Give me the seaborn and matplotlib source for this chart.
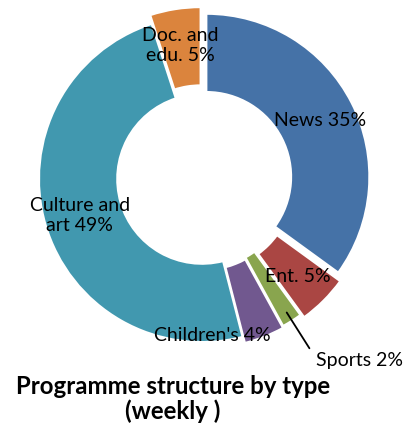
import numpy as np
import matplotlib
matplotlib.use("Agg")
import matplotlib.pyplot as plt
import seaborn as sns

categories = ["News", "Ent.", "Sports", "Children's", "Culture and\nart", "Doc. and\nedu."]
values = [35, 5, 2, 4, 49, 5]
colors = ["#4572A7", "#AA4643", "#89A54E", "#71588F", "#4198AF", "#DB843D"]
explode = [0.03, 0.055, 0.03, 0.04, 0.0, 0.055]

sns.set_theme(style="white")
plt.rcParams["font.family"] = ["Lato", "DejaVu Sans"]

W, H = 406, 427
fig = plt.figure(figsize=(W / 100, H / 100), dpi=100)
ax = fig.add_axes([0, 0, 1, 1])

R = 163.0
cx, cy = 202.0, 180.0
wedges, _ = ax.pie(values, colors=colors, explode=explode, startangle=90,
                   counterclock=False, radius=1.0,
                   wedgeprops=dict(width=0.48, edgecolor="white", linewidth=1.5))

ax.set_xlim(-cx / R, (W - cx) / R)
ax.set_ylim(-(H - cy) / R, cy / R)
ax.set_aspect("auto")
ax.axis("off")

fs = 14
for i, (w, cat, v) in enumerate(zip(wedges, categories, values)):
    mid = np.deg2rad((w.theta1 + w.theta2) / 2)
    ox, oy = w.center
    label = f"{cat} {v}%"
    if cat == "Sports":
        r0, r1 = 0.94, 1.2
        ax.plot([ox + r0 * np.cos(mid), ox + r1 * np.cos(mid)],
                [oy + r0 * np.sin(mid), oy + r1 * np.sin(mid)], color="black", lw=1.3)
        ax.text(ox + r1 * np.cos(mid) + 0.04, oy + r1 * np.sin(mid) - 0.07, label,
                ha="left", va="center", fontsize=fs, color="black")
    elif cat == "Children's":
        a = mid - np.deg2rad(18.6)
        ax.text(ox + 0.915 * np.cos(a), oy + 0.915 * np.sin(a), label,
                ha="center", va="center", fontsize=fs, color="black")
    else:
        r = 0.78
        ax.text(ox + r * np.cos(mid), oy + r * np.sin(mid), label,
                ha="center", va="center", fontsize=fs, color="black",
                linespacing=1.2)

fig.text(173 / W, 1 - 399 / H, "Programme structure by type\n(weekly )",
         ha="center", va="center", fontsize=17.3, fontweight="bold",
         linespacing=1.12, color="black")

fig.savefig("out.png", dpi=100)
